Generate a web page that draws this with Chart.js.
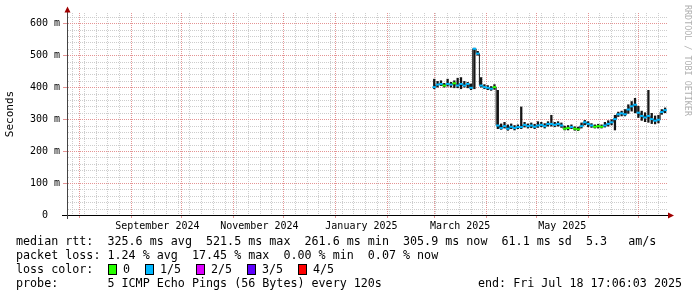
<!DOCTYPE html>
<html>
<head>
<meta charset="utf-8">
<script src="https://cdn.jsdelivr.net/npm/chart.js@4"></script>
<style>
html,body{margin:0;padding:0;background:#fff;}
#wrap{position:relative;width:697px;height:297px;overflow:hidden;font-family:'DejaVu Sans Mono',monospace;color:#000;}
#c{position:absolute;left:0;top:0;}
.ln{position:absolute;font-size:11.7px;line-height:14px;white-space:pre;}
.box{position:absolute;width:7px;height:9px;border:1px solid #000;}
#brand{position:absolute;left:683px;top:5px;writing-mode:vertical-rl;font-size:8.4px;line-height:10px;color:#b0b0b0;white-space:pre;}
</style>
</head>
<body>
<div id="wrap">
  <canvas id="c" width="697" height="297"></canvas>
  <div id="brand">RRDTOOL / TOBI OETIKER</div>
  <div class="ln" style="left:16px;top:234px">median rtt:  325.6 ms avg  521.5 ms max  261.6 ms min  305.9 ms now  61.1 ms sd  5.3   am/s</div>
  <div class="ln" style="left:16px;top:248px">packet loss: 1.24 % avg  17.45 % max  0.00 % min  0.07 % now</div>
  <div class="ln" style="left:16px;top:262px">loss color:</div>
  <div id="lossLegend"></div>
  <div class="ln" style="left:16px;top:276px">probe:       5 ICMP Echo Pings (56 Bytes) every 120s</div>
  <div class="ln" style="left:478px;top:276px">end: Fri Jul 18 17:06:03 2025</div>
</div>
<script>
// samples every 2 days starting 1 Mar 2025 (values in ms)
const firstSample = '2025-03-01';
const stepDays = 2;
const median = [400,408,410,405,410,408,412,405,410,405,410,398,520,505,405,400,398,395,400,280,
                272,278,270,276,272,275,275,282,278,280,276,280,282,278,285,285,282,285,280,270,
                272,275,270,268,278,290,285,280,276,278,276,280,285,290,300,315,318,315,330,340,
                345,320,310,305,310,300,295,298,322,328];
const low    = [395,400,405,400,403,400,398,398,395,400,398,392,395,500,400,395,392,390,393,270,
                268,272,265,270,266,270,270,275,272,273,270,274,276,272,278,278,276,278,274,266,
                266,270,265,264,272,282,276,274,272,272,272,275,278,282,266,308,310,310,318,325,
                320,305,296,292,290,286,285,288,315,320];
const high   = [425,418,420,412,425,415,420,428,430,418,415,410,522,512,430,408,405,402,408,390,
                285,290,282,285,280,282,338,290,285,288,284,292,290,286,292,312,290,292,288,278,
                280,282,276,275,288,296,292,286,282,284,282,290,295,298,312,322,325,330,345,355,
                365,340,325,320,390,318,310,312,330,335];
// packets lost out of 5 for each sample
const loss   = [1,1,1,0,1,1,0,1,1,1,1,1,1,1,1,1,1,1,0,1,
                1,1,1,1,1,1,1,1,1,1,1,1,1,1,1,1,1,1,1,0,
                0,1,0,0,1,1,1,1,0,0,0,1,1,1,1,1,1,1,1,1,
                1,1,1,1,1,1,1,1,1,1];

const lossLabels = ['0','1/5','2/5','3/5','4/5'];
const lossColors = ['#26ff00','#00b8ff','#dd00ff','#5e00ff','#ff0000'];

const yMajor = [0,100,200,300,400,500,600];
const yLabels = ['0  ','100 m','200 m','300 m','400 m','500 m','600 m'];

const xLabelMonths = ['2024-09','2024-11','2025-01','2025-03','2025-05'];
const xLabels = ['September 2024','November 2024','January 2025','March 2025','May 2025'];

const DAY = 86400000;
const endTime = Date.UTC(2025,6,18,17,6,3);
const startTime = endTime - 359.2 * DAY;

// loss legend boxes
const boxX = [108,145,196,247,298];
const lg = document.getElementById('lossLegend');
lossLabels.forEach((l,i)=>{
  lg.innerHTML += `<div class="box" style="left:${boxX[i]}px;top:264px;background:${lossColors[i]}"></div>` +
                  `<div class="ln" style="left:${boxX[i]+15}px;top:262px">${l}</div>`;
});

// x ticks: weekly (minor), month starts (major), mid-month labels
const xTicks = [];
const seen = {};
for (let t = Date.UTC(2024,6,28); t <= endTime; t += 7*DAY) { seen[t] = {v:t, kind:'minor'}; }
for (let y = 2024, m = 7; Date.UTC(y,m,1) <= endTime; m++) {
  if (m > 11) { m = 0; y++; }
  const t = Date.UTC(y,m,1);
  if (t >= startTime && t <= endTime) seen[t] = {v:t, kind:'major'};
}
xLabelMonths.forEach((s,i)=>{
  const [y,m] = s.split('-').map(Number);
  const t = Date.UTC(y,m-1,1) + 15.5*DAY;
  seen[t] = {v:t, kind:'label', label:xLabels[i]};
});
Object.values(seen).filter(t=>t.v>=startTime && t.v<=endTime).sort((a,b)=>a.v-b.v).forEach(t=>xTicks.push(t));

const yTicks = [];
for (let v = 0; v <= 620; v += 20) yTicks.push(v);

const t0 = Date.parse(firstSample + 'T00:00:00Z');
const xs = median.map((_,i)=> t0 + i*stepDays*DAY);

const GRID = '#cdcdcd';
const MGRID = '#e49494';
const monoFont = {family:"'DejaVu Sans Mono', monospace", size:10};

// rrdtool style dotted grid, drawn pixel by pixel from the scales
const gridPlugin = {
  id:'dotgrid',
  beforeDatasetsDraw(chart){
    const ctx = chart.ctx, a = chart.chartArea, sx = chart.scales.x, sy = chart.scales.y;
    const top = Math.round(a.top), bot = Math.round(a.bottom), l = Math.round(a.left), r = Math.round(a.right);
    const hline = (row, col) => { ctx.fillStyle = col; for (let x = l + 1; x < r; x += 2) ctx.fillRect(x, row, 1, 1); };
    const vline = (cx, col) => { ctx.fillStyle = col; for (let y = top; y < bot; y += 2) ctx.fillRect(cx, y, 1, 1); };
    ctx.save();
    yTicks.forEach(v => { if (v % 100) hline(Math.round(sy.getPixelForValue(v)), GRID); });
    xTicks.forEach(t => { if (t.kind === 'minor') vline(Math.floor(sx.getPixelForValue(t.v)), GRID); });
    yTicks.forEach(v => { if (v % 100 === 0 && v > 0) hline(Math.round(sy.getPixelForValue(v)), MGRID); });
    xTicks.forEach(t => { if (t.kind === 'major') vline(Math.floor(sx.getPixelForValue(t.v)), MGRID); });
    ctx.restore();
  }
};

const axesPlugin = {
  id:'axes',
  afterDatasetsDraw(chart){
    const ctx = chart.ctx, a = chart.chartArea;
    ctx.save();
    ctx.fillStyle = '#000';
    ctx.fillRect(62, a.bottom, a.right - 62 + 1, 1);
    ctx.fillStyle = '#444';
    ctx.fillRect(a.left, 12, 1, a.bottom - 12 + 4);
    ctx.fillStyle = '#a00000';
    ctx.beginPath();
    ctx.moveTo(a.left + 0.5, 6.5); ctx.lineTo(a.left - 2.5, 12.5); ctx.lineTo(a.left + 3.5, 12.5);
    ctx.closePath(); ctx.fill();
    ctx.beginPath();
    ctx.moveTo(a.right + 6, a.bottom + 0.5); ctx.lineTo(a.right, a.bottom - 2.5); ctx.lineTo(a.right, a.bottom + 3.5);
    ctx.closePath(); ctx.fill();
    ctx.restore();
  }
};

new Chart(document.getElementById('c'), {
  type:'bar',
  data:{
    datasets:[
      {
        type:'scatter',
        data: xs.map((x,i)=>({x, y:median[i]})),
        pointStyle:'line',
        pointRadius:1.8,
        pointBorderWidth:2,
        pointBorderColor: c => lossColors[loss[c.dataIndex]],
        order:0
      },
      {
        type:'line',
        data: xs.map((x,i)=>({x, y:median[i]})),
        borderColor:'#151515',
        borderWidth:1,
        stepped:'middle',
        pointRadius:0,
        order:1
      },
      {
        type:'bar',
        data: xs.map((x,i)=>({x, y:[low[i], high[i]]})),
        backgroundColor:'#151515',
        barThickness:1.6,
        order:2
      }
    ]
  },
  options:{
    responsive:false,
    animation:false,
    events:[],
    devicePixelRatio:1,
    layout:{padding:{top:13, right:29, left:0, bottom:0}},
    plugins:{legend:{display:false}, tooltip:{enabled:false}},
    scales:{
      x:{
        type:'linear',
        min:startTime, max:endTime,
        offset:false,
        afterBuildTicks: s => { s.ticks = xTicks.map(t=>({value:t.v})); },
        afterFit: s => { s.height = 82; },
        ticks:{
          autoSkip:false, maxRotation:0, minRotation:0, padding:2,
          font:monoFont, color:'#000',
          callback:(v,i)=> xTicks[i] && xTicks[i].kind==='label' ? xTicks[i].label : ''
        },
        grid:{
          offset:false, drawOnChartArea:false,
          tickColor: c => { const t = xTicks[c.index]; return t && t.kind==='major' ? MGRID : 'transparent'; },
          tickLength:3, lineWidth:1
        },
        border:{display:false}
      },
      y:{
        min:0, max:632,
        afterBuildTicks: s => { s.ticks = yTicks.map(v=>({value:v})); },
        afterFit: s => { s.width = 67; },
        ticks:{
          autoSkip:false, padding:3, font:monoFont, color:'#000',
          callback: (v,i) => { const k = yMajor.indexOf(yTicks[i]); return k >= 0 ? yLabels[k] : ''; }
        },
        grid:{
          drawOnChartArea:false,
          tickColor: c => (yTicks[c.index] % 100 === 0) ? MGRID : 'transparent',
          tickLength:4, lineWidth:1
        },
        border:{display:false},
        title:{display:true, text:'Seconds', color:'#000', font:{family:"'DejaVu Sans Mono', monospace", size:11}, padding:{top:4, bottom:0}}
      }
    }
  },
  plugins:[gridPlugin, axesPlugin]
});
</script>
</body>
</html>
